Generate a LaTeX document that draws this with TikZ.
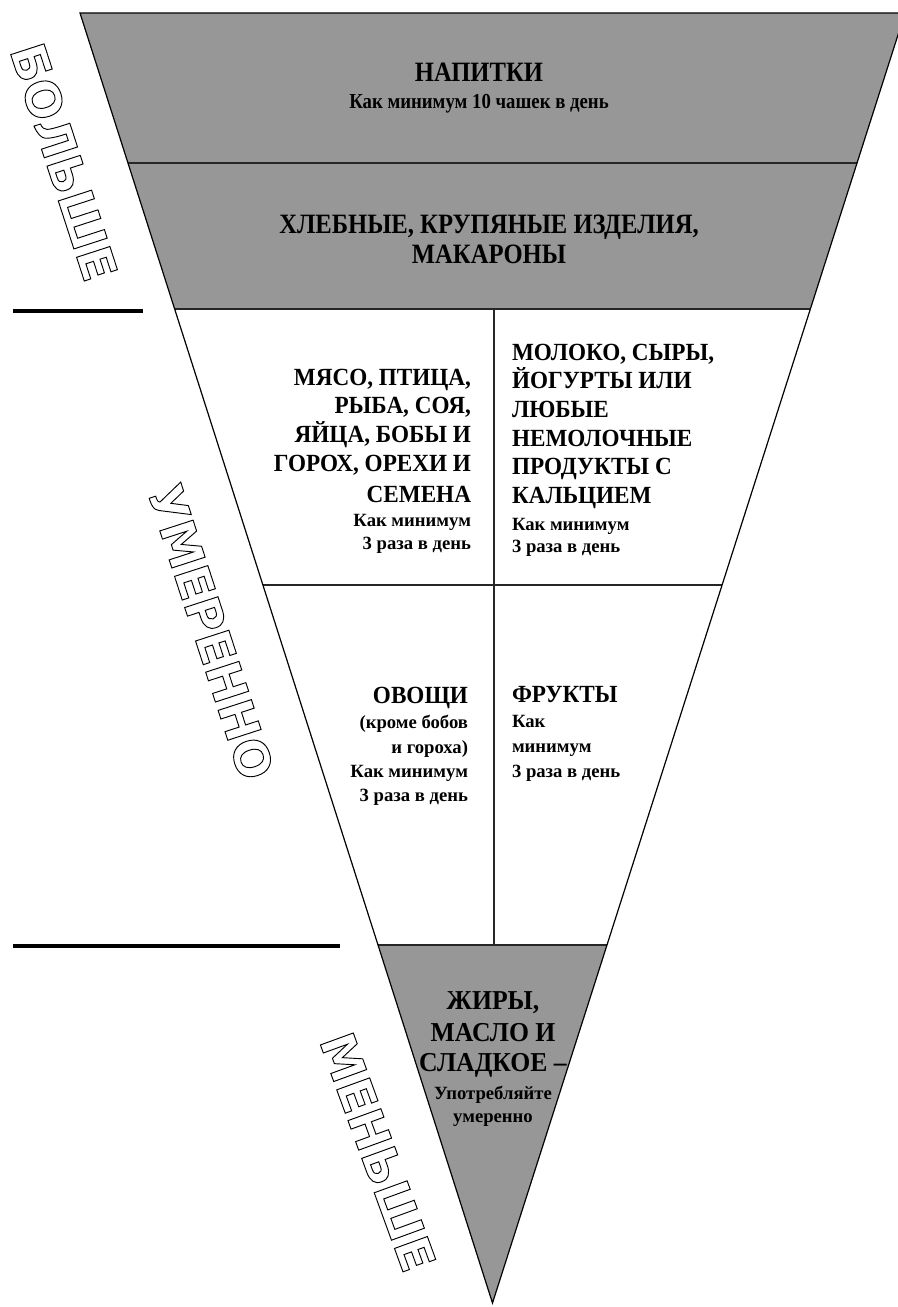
\documentclass[tikz,border=0pt]{standalone}
\usepackage{fontspec}
\newfontfamily\foodfont{Liberation Serif}[FakeStretch=0.88]
\newfontfamily\cellfont{Liberation Serif}[FakeStretch=0.94]
\newfontfamily\notefont{Liberation Serif}
\newfontfamily\signfont{DejaVu Sans}
\usetikzlibrary{calc}
\definecolor{bandgrey}{RGB}{151,151,151}
\tikzset{
  every node/.style={
    inner sep=0pt,
    outer sep=0pt
  },
  band/.style={
    fill=bandgrey
  },
  rim/.style={
    draw=black,
    line width=0.9pt,
    line join=miter
  },
  divider/.style={
    draw=black!85,
    line width=1.1pt
  },
  marker/.style={
    draw=black,
    line width=2.6pt
  },
  bandhead/.style={
    font=\foodfont\bfseries\fontsize{21}{22.5}\selectfont,
    align=center
  },
  bandnote/.style={
    font=\foodfont\bfseries\fontsize{16}{18}\selectfont
  },
  cellhead/.style={
    font=\cellfont\bfseries\fontsize{18.5}{21.5}\selectfont
  },
  fathead/.style={
    font=\cellfont\bfseries\fontsize{20.5}{23.25}\selectfont,
    align=center
  },
  hollowword/.style={
    font=\signfont\bfseries\fontsize{36}{40}\selectfont,
    rotate=#1
  }
}
\newcommand{\cellnote}{\notefont\fontsize{14}{16}\selectfont}
% stroked letters only (text render mode 1)
\newcommand{\hollow}[1]{\special{pdf:literal direct 1 Tr 0.7 w}#1\special{pdf:literal direct 0 Tr}}

\begin{document}
\begin{tikzpicture}[x=0.75pt, y=-0.75pt]
  \useasboundingbox (0,0) rectangle (897,1307);
  % corners of the funnel
  \coordinate (tl) at (80,13);
  \coordinate (tr) at (905,13);
  \coordinate (apex) at (492.5,1303);
  % row edges on both sides
  \coordinate (l1) at ($(tl)!0.1163!(apex)$);
  \coordinate (r1) at ($(tr)!0.1163!(apex)$);
  \coordinate (l2) at ($(tl)!0.2295!(apex)$);
  \coordinate (r2) at ($(tr)!0.2295!(apex)$);
  \coordinate (l3) at ($(tl)!0.4434!(apex)$);
  \coordinate (r3) at ($(tr)!0.4434!(apex)$);
  \coordinate (l4) at ($(tl)!0.7225!(apex)$);
  \coordinate (r4) at ($(tr)!0.7225!(apex)$);
  \coordinate (m2) at (494,309);
  \coordinate (m4) at (494,945);

  \fill[band] (tl) -- (tr) -- (r2) -- (l2) -- cycle;
  \fill[band] (l4) -- (r4) -- (apex) -- cycle;
  \draw[divider] (l1) -- (r1);
  \draw[divider] (l2) -- (r2);
  \draw[divider] (l3) -- (r3);
  \draw[divider] (l4) -- (r4);
  \draw[divider] (m2) -- (m4);
  \draw[rim] (tl) -- (tr) -- (apex) -- cycle;

  % bars on the left
  \coordinate (bar1a) at (13,311);
  \coordinate (bar1b) at (143,311);
  \coordinate (bar2a) at (13,946);
  \coordinate (bar2b) at (340,946);
  \draw[marker] (bar1a) -- (bar1b);
  \draw[marker] (bar2a) -- (bar2b);

  % grey bands
  \node[bandhead, anchor=base] (drinks) at (479,81) {НАПИТКИ};
  \node[bandnote, anchor=base] (drinksnote) at (479,108) {Как минимум 10 чашек в день};
  \node[bandhead, anchor=north] (grains) at (489,214.5)
    {ХЛЕБНЫЕ, КРУПЯНЫЕ ИЗДЕЛИЯ,\\МАКАРОНЫ};

  % white cells
  \node[cellhead, align=right, anchor=north east] (meat) at (471,368.7)
    {МЯСО, ПТИЦА,\\РЫБА, СОЯ,\\ЯЙЦА, БОБЫ И\\ГОРОХ, ОРЕХИ И\\[2.4pt]СЕМЕНА\\[-3.5pt]
     {\cellnote Как минимум}\\[-4.25pt]{\cellnote 3 раза в день}};
  \node[cellhead, align=left, anchor=north west] (dairy) at (512,343.7)
    {МОЛОКО, СЫРЫ,\\ЙОГУРТЫ ИЛИ\\ЛЮБЫЕ\\НЕМОЛОЧНЫЕ\\ПРОДУКТЫ С\\КАЛЬЦИЕМ\\[-1pt]
     {\cellnote Как минимум}\\[-4.8pt]{\cellnote 3 раза в день}};
  \node[cellhead, align=right, anchor=north east] (veggies) at (468,686.7)
    {ОВОЩИ\\[-2.75pt]{\cellnote (кроме бобов}\\[-2.75pt]{\cellnote и гороха)}\\[-3.5pt]
     {\cellnote Как минимум}\\[-3.5pt]{\cellnote 3 раза в день}};
  \node[cellhead, align=left, anchor=north west] (fruits) at (512,686.7)
    {ФРУКТЫ\\[-2.75pt]{\cellnote Как}\\[-2.75pt]{\cellnote минимум}\\[-2.75pt]
     {\cellnote 3 раза в день}};

  % tip
  \node[fathead, anchor=north] (fats) at (493,992)
    {ЖИРЫ,\\[0.75pt]МАСЛО И\\[-0.75pt]СЛАДКОЕ –\\[-2.25pt]{\cellnote Употребляйте}\\[-6pt]
     {\cellnote умеренно}};

  % hollow side words
  \node[hollowword=-72] (more) at (64,162) {\hollow{БОЛЬШЕ}};
  \node[hollowword=-72] (moderate) at (211,632) {\hollow{УМЕРЕННО}};
  \node[hollowword=-70] (less) at (378,1152) {\hollow{МЕНЬШЕ}};
\end{tikzpicture}
\end{document}
